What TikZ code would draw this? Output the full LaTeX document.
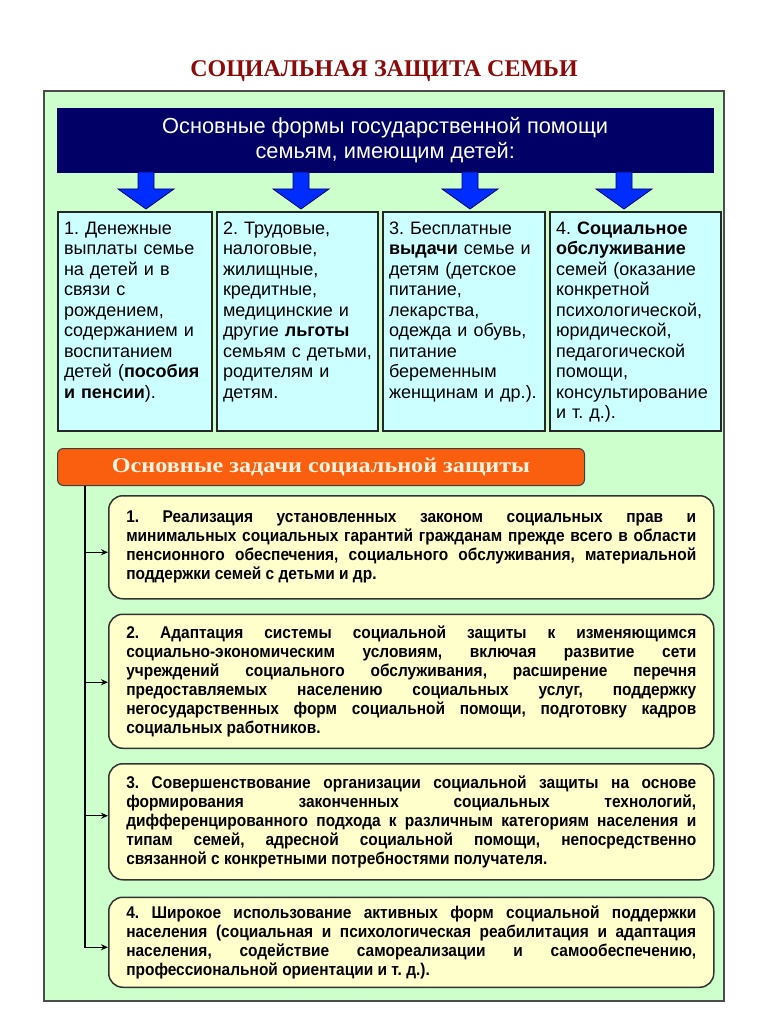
\documentclass[tikz,border=0pt]{standalone}
\usepackage{fontspec}
\setmainfont{Liberation Sans}
\newfontfamily\narrowfont[FakeStretch=0.91]{Liberation Sans}
\newfontfamily\titlefont{Liberation Serif}
\newfontfamily\bannerfont[FakeStretch=1.15]{Liberation Serif}
\usetikzlibrary{arrows.meta,positioning,calc}
\definecolor{titlered}{RGB}{140,10,10}
\definecolor{panelgreen}{RGB}{204,255,204}
\definecolor{navyhead}{RGB}{0,0,102}
\definecolor{formcyan}{RGB}{204,255,255}
\definecolor{bannerorange}{RGB}{250,95,15}
\definecolor{bannertext}{RGB}{255,244,225}
\definecolor{taskyellow}{RGB}{255,255,204}
\definecolor{arrowblue}{RGB}{0,45,255}

\tikzset{
  titletext/.style={text=titlered, font=\titlefont\bfseries\fontsize{24}{28}\selectfont},
  panel/.style={draw=black!70, line width=1.5pt, fill=panelgreen},
  header/.style={fill=navyhead, draw=navyhead, text=white, minimum width=656pt,
    minimum height=64pt, align=center, font=\fontsize{21.8}{25}\selectfont},
  formbox/.style={draw=black!85, line width=2pt, fill=formcyan, inner xsep=6pt, inner ysep=7pt,
    text height=15pt, text depth=190pt, align=left, font=\fontsize{18}{20.5}\selectfont},
  bluearrow/.style={fill=arrowblue, draw=navyhead, line width=0.8pt},
  banner/.style={draw=black!75, line width=1pt, fill=bannerorange, rounded corners=6pt,
    minimum width=527pt, minimum height=37pt, text=bannertext,
    font=\bannerfont\bfseries\fontsize{21}{24}\selectfont},
  taskbox/.style={draw=black!80, line width=1.5pt, fill=taskyellow, rounded corners=14pt,
    text width=570pt, inner xsep=17.5pt, align=justify,
    font=\narrowfont\bfseries\fontsize{17}{19}\selectfont},
  conn/.style={line width=1.2pt, -{Stealth[length=7pt,width=6pt]}}
}

\begin{document}
\frenchspacing\hyphenpenalty=10000 \exhyphenpenalty=10000
\begin{tikzpicture}[x=1pt,y=-1pt]
\useasboundingbox (0,0) rectangle (767,1024);
\node[titletext] (title) at (384,71) {СОЦИАЛЬНАЯ ЗАЩИТА СЕМЬИ};
\draw[panel] (44,91) rectangle (724,1001);
\node[header, anchor=north west] (header) at (57,108) {Основные формы государственной помощи\\ семьям, имеющим детей:};

% forms of help
\node[formbox, text width=142pt, anchor=north west] (form1) at (57,211)
  {1. Денежные\\ выплаты семье\\ на детей и в\\ связи с\\ рождением,\\ содержанием и\\ воспитанием\\ детей (\textbf{пособия}\\ \textbf{и пенсии}).};
\node[formbox, text width=149pt, right=3pt of form1] (form2)
  {2. Трудовые,\\ налоговые,\\ жилищные,\\ кредитные,\\ медицинские и\\ другие \textbf{льготы}\\ семьям с детьми,\\ родителям и\\ детям.};
\node[formbox, text width=150pt, right=3pt of form2] (form3)
  {3. Бесплатные\\ \textbf{выдачи} семье и\\ детям (детское\\ питание,\\ лекарства,\\ одежда и обувь,\\ питание\\ беременным\\ женщинам и др.).};
\node[formbox, text width=159pt, right=3pt of form3] (form4)
  {4. \textbf{Социальное}\\ \textbf{обслуживание}\\ семей (оказание\\ конкретной\\ психологической,\\ юридической,\\ педагогической\\ помощи,\\ консультирование\\ и т. д.).};

\foreach \x in {146,301,470,624}
  \draw[bluearrow] (\x-8,172) -- (\x+8,172) -- (\x+8,189) -- (\x+28,189)
    -- (\x,209) -- (\x-28,189) -- (\x-8,189) -- cycle;

% tasks
\node[banner, anchor=north west] (tasks) at (57,448) {Основные задачи социальной защиты};

\node[taskbox, minimum height=103pt, anchor=north west] (task1) at (108,495)
  {1. Реализация установленных законом социальных прав и\linebreak
   минимальных социальных гарантий гражданам прежде всего в области\linebreak
   пенсионного обеспечения, социального обслуживания, материальной\linebreak
   поддержки семей с детьми и др.};
\node[taskbox, minimum height=134pt, below=14pt of task1] (task2)
  {2. Адаптация системы социальной защиты к изменяющимся\linebreak
   социально-экономическим условиям, включая развитие сети\linebreak
   учреждений социального обслуживания, расширение перечня\linebreak
   предоставляемых населению социальных услуг, поддержку\linebreak
   негосударственных форм социальной помощи, подготовку кадров\linebreak
   социальных работников.};
\node[taskbox, minimum height=116pt, below=14pt of task2] (task3)
  {3. Совершенствование организации социальной защиты на основе\linebreak
   формирования законченных социальных технологий,\linebreak
   дифференцированного подхода к различным категориям населения и\linebreak
   типам семей, адресной социальной помощи, непосредственно\linebreak
   связанной с конкретными потребностями получателя.};
\node[taskbox, minimum height=90pt, below=16pt of task3] (task4)
  {4. Широкое использование активных форм социальной поддержки\linebreak
   населения (социальная и психологическая реабилитация и адаптация\linebreak
   населения, содействие самореализации и самообеспечению,\linebreak
   профессиональной ориентации и т. д.).};

\coordinate (spine) at (85,0);
\foreach \i/\dy in {1/-5,2/-1,3/6,4/-5}
  \draw[conn] (tasks.south -| spine) |- ([yshift=\dy]task\i.west);
\end{tikzpicture}
\end{document}
